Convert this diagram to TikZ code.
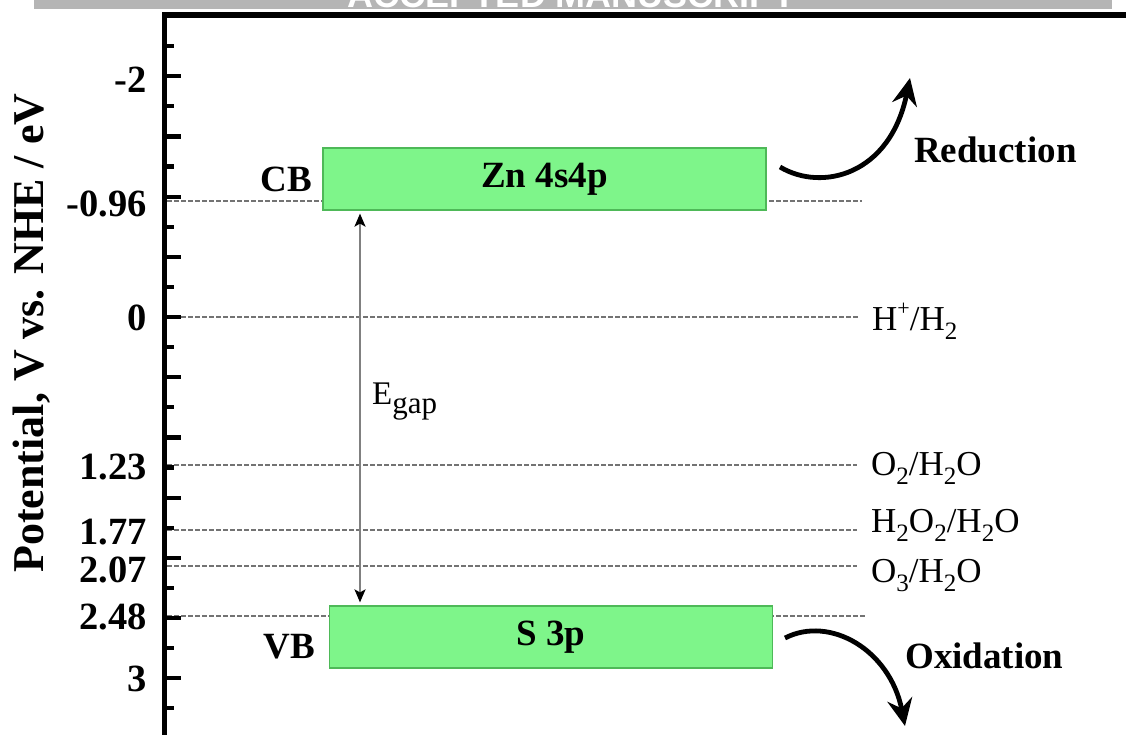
\documentclass[tikz,border=0pt]{standalone}
\usepackage{fontspec}
\setmainfont{Liberation Serif}
\newfontfamily\bannerfont{Liberation Sans}
\usetikzlibrary{arrows.meta}

\definecolor{bandfill}{RGB}{126,245,138}
\definecolor{bandedge}{RGB}{78,185,88}
\definecolor{guide}{RGB}{115,115,115}
\definecolor{bannergray}{RGB}{181,181,181}

% lowered / raised indices for the redox couples
\newcommand{\lowidx}[1]{\raisebox{-0.28em}{\fontsize{25}{25}\selectfont #1}}
\newcommand{\highidx}[1]{\raisebox{0.42em}{\fontsize{22}{22}\selectfont #1}}

\begin{document}
\begin{tikzpicture}[x=1pt,y=-1pt,
  ticklab/.style={anchor=east, inner sep=0pt, font=\fontsize{38.5}{40}\selectfont\bfseries},
  sidelab/.style={anchor=base east, inner sep=0pt, font=\fontsize{37}{40}\selectfont\bfseries},
  band/.style={draw=bandedge, line width=1.2pt, fill=bandfill, minimum width=443pt,
    minimum height=62pt, inner sep=0pt, font=\fontsize{37}{40}\selectfont\bfseries},
  couple/.style={anchor=base west, inner sep=0pt, font=\fontsize{35}{38}\selectfont},
  proclab/.style={anchor=base west, inner sep=0pt, font=\fontsize{37}{40}\selectfont\bfseries},
  guideline/.style={guide, line width=1.3pt, dash pattern=on 4.5pt off 2.5pt},
  axisline/.style={line width=5.5pt, line join=miter},
  tickline/.style={line width=4.2pt},
  procarrow/.style={line width=4.8pt, -{Stealth[length=27pt, width=25pt, inset=9pt]}},
  gaparrow/.style={draw=gray, line width=2pt,
    {Stealth[length=13pt, width=11pt, inset=3pt, black]}-{Stealth[length=13pt, width=11pt, inset=3pt, black]}},
]
\useasboundingbox (0,0) rectangle (1126,734);
\clip (0,0) rectangle (1126,734);

% journal banner across the top
\fill[bannergray] (34,-10) rectangle (1112,9);
\node[text=white, inner sep=0pt, anchor=base, font=\bannerfont\bfseries\fontsize{36}{36}\selectfont]
  (banner) at (572,7.5) {ACCEPTED MANUSCRIPT};

% dashed potential levels
\draw[guideline] (167,201) -- (862,201);
\draw[guideline] (167,317) -- (858,317);
\draw[guideline] (167,465) -- (857,465);
\draw[guideline] (167,530) -- (857,530);
\draw[guideline] (167,566) -- (857,566);
\draw[guideline] (167,616) -- (865,616);

% frame and potential axis
\draw[axisline] (1135,15) -- (164.5,15) -- (164.5,745);
\foreach \i in {-9,...,13}{
  \pgfmathsetmacro{\yy}{317+30.1*\i}
  \ifodd\i \def\tl{9}\else\def\tl{16}\fi
  \draw[tickline] (164.5,\yy) -- ++(\tl,0);
}

% tick labels
\node[ticklab] (tm2)   at (147,80)  {-2};
\node[ticklab] (tm096) at (147,204) {-0.96};
\node[ticklab] (t0)    at (147,318) {0};
\node[ticklab] (t123)  at (147,467) {1.23};
\node[ticklab] (t177)  at (147,532) {1.77};
\node[ticklab] (t207)  at (147,570) {2.07};
\node[ticklab] (t248)  at (147,617) {2.48};
\node[ticklab] (t3)    at (147,679) {3};

% axis title
\node[rotate=90, anchor=base, inner sep=0pt, font=\fontsize{44}{46}\selectfont\bfseries]
  (ytitle) at (43,333) {Potential, V vs. NHE / eV};

% conduction and valence bands
\node[band] (cb) at (544.5,179) {Zn 4s4p};
\node[band] (vb) at (551,637) {S 3p};
\node[sidelab] (cblab) at (312,191) {CB};
\node[sidelab] (vblab) at (315,658) {VB};

% band gap
\coordinate (gapx) at (360,0);
\draw[gaparrow] ([yshift=-3pt]cb.south -| gapx) -- ([yshift=3pt]vb.north -| gapx);
\node[anchor=base west, inner sep=0pt, font=\fontsize{33}{36}\selectfont] (egap) at (372,404)
  {E\raisebox{-0.3em}{\fontsize{31}{32}\selectfont gap}};

% redox couples
\node[couple] (hh)   at (872,330) {H\highidx{+}/H\lowidx{2}};
\node[couple] (ow)   at (871,475) {O\lowidx{2}/H\lowidx{2}O};
\node[couple] (hpw)  at (871,532) {H\lowidx{2}O\lowidx{2}/H\lowidx{2}O};
\node[couple] (ozw)  at (871,582) {O\lowidx{3}/H\lowidx{2}O};

% reduction and oxidation processes
\node[proclab] (red) at (914,162) {Reduction};
\node[proclab] (ox)  at (905,668) {Oxidation};
\coordinate (redstart) at (780,167);
\coordinate (redend) at (910,78);
\coordinate (oxstart) at (785,638);
\coordinate (oxend) at (905,726);
\draw[procarrow] (redstart) .. controls (822,192) and (890,175) .. (redend);
\draw[procarrow] (oxstart) .. controls (830,615) and (890,650) .. (oxend);
\end{tikzpicture}
\end{document}
